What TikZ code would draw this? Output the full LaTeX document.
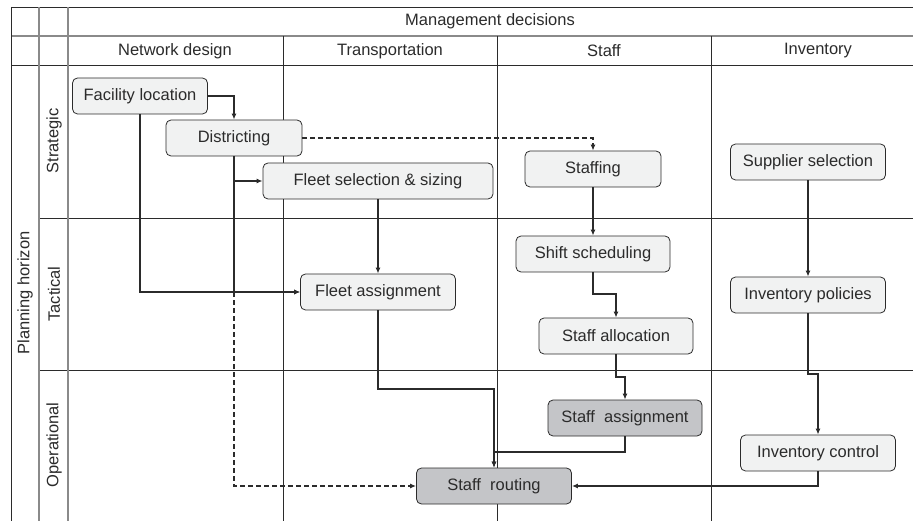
\documentclass[tikz,border=0pt]{standalone}
\usepackage{fontspec}
\setmainfont{Liberation Sans}
\usetikzlibrary{arrows.meta}
\definecolor{ink}{HTML}{2B2B2B}
\definecolor{gridgray}{HTML}{8A8A8A}
\definecolor{boxfill}{HTML}{F1F2F2}
\definecolor{boxdark}{HTML}{C4C5C8}
\tikzset{
  gridline/.style={draw=ink, line width=0.7pt},
  gridsoft/.style={draw=gridgray, line width=1.5pt},
  task/.style={draw=ink, line width=0.8pt, rounded corners=5pt, fill=boxfill,
    minimum height=36pt, inner sep=0pt, text=ink, font=\fontsize{16.5}{19}\selectfont},
  taskdark/.style={task, fill=boxdark},
  label/.style={text=ink, font=\fontsize{16.5}{19}\selectfont, inner sep=0pt},
  link/.style={draw=ink, line width=1.3pt, -{Latex[length=6pt,width=5pt]}},
  dlink/.style={link, dash pattern=on 5pt off 3pt},
}
\begin{document}
\begin{tikzpicture}[x=1pt,y=-1pt]
\useasboundingbox (0,0) rectangle (913,521);
% table frame
\draw[gridline] (11,7) -- (913,7);
\draw[gridsoft] (11,36) -- (913,36);
\draw[gridline] (11,65) -- (913,65);
\draw[gridline] (39,218) -- (913,218);
\draw[gridline] (39,370) -- (913,370);
\draw[gridline] (11,7) -- (11,521);
\draw[gridsoft] (39,7) -- (39,521);
\draw[gridsoft] (68,7) -- (68,521);
\draw[gridline] (283,36) -- (283,521);
\draw[gridline] (497,36) -- (497,521);
\draw[gridline] (711,36) -- (711,521);
% headings
\node[label] (mgmt) at (490,21) {Management decisions};
\node[label] (hnet) at (175,51) {Network design};
\node[label] (htra) at (390,51) {Transportation};
\node[label] (hsta) at (604,51) {Staff};
\node[label] (hinv) at (818,51) {Inventory};
\node[label, rotate=90] (horizon) at (25,293) {Planning horizon};
\node[label, rotate=90] (hstr) at (54,141) {Strategic};
\node[label, rotate=90] (htac) at (54,294) {Tactical};
\node[label, rotate=90] (hope) at (54,445) {Operational};
% decision boxes
\node[task, minimum width=135pt] (fac) at (140,96) {Facility location};
\node[task, minimum width=136pt] (dis) at (234,138) {Districting};
\node[task, minimum width=230pt] (fsel) at (378,181) {Fleet selection \& sizing};
\node[task, minimum width=136pt] (stf) at (593,169) {Staffing};
\node[task, minimum width=155pt] (sup) at (808,162) {Supplier selection};
\node[task, minimum width=154pt] (shift) at (593,254) {Shift scheduling};
\node[task, minimum width=155pt] (fasg) at (378,292) {Fleet assignment};
\node[task, minimum width=155pt] (ipol) at (808,295) {Inventory policies};
\node[task, minimum width=154pt] (salloc) at (616,336) {Staff allocation};
\node[taskdark, minimum width=154pt] (sasg) at (625,418) {Staff~~assignment};
\node[task, minimum width=155pt] (ictl) at (818,453) {Inventory control};
\node[taskdark, minimum width=155pt] (srout) at (494,486) {Staff~~routing};
% dependencies
\draw[dlink] (dis.south) -- (234,486) -- (srout.west);
\draw[link] (fac.east) -| (dis.north);
\draw[link] (fac.south) |- (fasg.west);
\draw[link] (dis.south) |- (fsel.west);
\draw[link] (dis.south) -- (234,292) -- (fasg.west);
\draw[dlink] (dis.east) -| (stf.north);
\draw[link] (fsel.south) -- (fasg.north);
\draw[link] (stf.south) -- (shift.north);
\draw[link] (shift.south) -- (593,294) -| (salloc.north);
\draw[link] (salloc.south) -- (616,377) -| (sasg.north);
\draw[link] (sup.south) -- (ipol.north);
\draw[link] (ipol.south) -- (808,374) -| (ictl.north);
\draw[link] (ictl.south) |- (srout.east);
\draw[link] (fasg.south) -- (378,389) -| (srout.north);
\draw[link] (sasg.south) -- (625,452) -| (srout.north);
\end{tikzpicture}
\end{document}
